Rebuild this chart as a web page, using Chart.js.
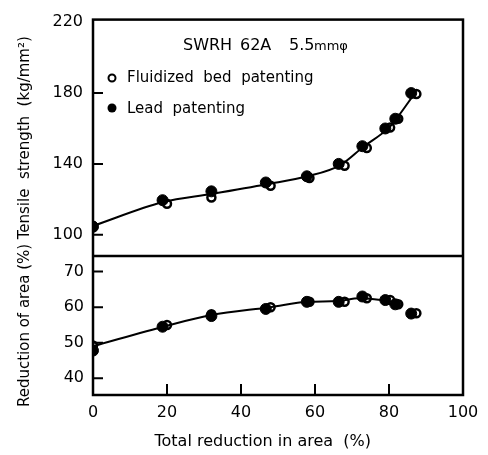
<!DOCTYPE html>
<html lang="en">
<head>
  <meta charset="UTF-8">
  <title>SWRH 62A patenting</title>
  <script src="https://cdn.jsdelivr.net/npm/chart.js"></script>
  <style>
    html, body { margin: 0; padding: 0; background: #fff; }
    .chart-box { width: 488px; height: 455px; }
  </style>
</head>
<body>
  <div class="chart-box"><canvas id="patentChart"></canvas></div>
  <script>
    // tick labels
    const xTicks = [0, 20, 40, 60, 80, 100];
    const tensileTicks = [100, 140, 180, 220];
    const areaTicks = [40, 50, 60, 70];

    // total reduction in area (%) for each drawing pass
    const fluidReduction = [0, 20, 32, 48, 58.5, 68, 74, 80.3, 82.5, 87.4];
    const leadReduction = [0, 18.8, 32, 46.7, 57.8, 66.4, 72.8, 79, 81.7, 86];

    // tensile strength (kg/mm2)
    const fluidTensile = [105, 117.5, 121, 127.7, 132, 139, 149, 160.5, 165.5, 179.5];
    const leadTensile = [104.5, 119.5, 124.5, 129.5, 133, 140, 150, 160, 165.5, 180];

    // reduction of area (%)
    const fluidArea = [49.2, 55, 58, 60, 61.5, 61.5, 62.5, 62, 60.8, 58.3];
    const leadArea = [47.8, 54.5, 57.5, 59.5, 61.5, 61.5, 63, 62, 60.8, 58.2];

    // hand-drawn trend curves
    const tensileCurveX = [0, 19, 32, 47, 58, 67, 73, 80, 82, 87];
    const tensileCurveY = [105, 118.5, 123, 128.5, 133, 139.5, 149.5, 160.5, 165.5, 180];
    const areaCurveX = [0, 20, 32, 48, 58, 66, 72, 78];
    const areaCurveY = [49, 54.8, 57.8, 60, 61.5, 61.7, 62.5, 62];

    const FONT = "'DejaVu Sans', sans-serif";
    const pts = (xs, ys) => xs.map((x, i) => ({ x: x, y: ys[i] }));

    // frame, panel divider, inward tick marks and in-plot legend
    const framePlugin = {
      id: 'frame',
      afterDraw(chart) {
        const ctx = chart.ctx;
        const a = chart.chartArea;
        const sx = chart.scales.x, sy = chart.scales.y, sy2 = chart.scales.y2;
        ctx.save();
        ctx.strokeStyle = '#000';
        ctx.lineWidth = 2.5;
        ctx.strokeRect(a.left, a.top, a.right - a.left, a.bottom - a.top);
        ctx.beginPath();
        ctx.moveTo(a.left, sy.bottom);
        ctx.lineTo(a.right, sy.bottom);
        ctx.stroke();

        ctx.lineWidth = 2;
        ctx.beginPath();
        tensileTicks.slice(0, 3).forEach(v => {
          const y = sy.getPixelForValue(v);
          ctx.moveTo(a.left, y); ctx.lineTo(a.left + 10, y);
        });
        areaTicks.forEach(v => {
          const y = sy2.getPixelForValue(v);
          ctx.moveTo(a.left, y); ctx.lineTo(a.left + 10, y);
        });
        xTicks.slice(1, 5).forEach(v => {
          const x = sx.getPixelForValue(v);
          ctx.moveTo(x, a.bottom); ctx.lineTo(x, a.bottom - 11);
        });
        ctx.stroke();

        // legend
        ctx.fillStyle = '#000';
        ctx.font = '16px ' + FONT;
        ctx.textBaseline = 'middle';
        ctx.textAlign = 'left';
        ctx.fillText('SWRH', 183, 46);
        ctx.fillText('62A', 240, 46);
        ctx.fillText('5.5', 289, 46);
        ctx.font = '13px ' + FONT;
        ctx.fillText('mm\u03c6', 314, 47);
        ctx.font = '15px ' + FONT;
        ctx.fillText('Fluidized  bed  patenting', 127, 78);
        ctx.fillText('Lead  patenting', 127, 109);
        ctx.lineWidth = 2;
        ctx.beginPath();
        ctx.arc(112, 78, 3.5, 0, Math.PI * 2);
        ctx.stroke();
        ctx.beginPath();
        ctx.arc(112, 108, 4.5, 0, Math.PI * 2);
        ctx.fill();
        ctx.restore();
      }
    };

    const axisTitle = (text) => ({
      display: true, text: text, color: '#000',
      font: { family: FONT, size: 15 }, padding: { top: 16, bottom: 4 }
    });

    new Chart(document.getElementById('patentChart'), {
      type: 'scatter',
      data: {
        datasets: [
          {
            label: 'tensile curve', data: pts(tensileCurveX, tensileCurveY), yAxisID: 'y',
            showLine: true, borderColor: '#000', borderWidth: 2, pointRadius: 0,
            cubicInterpolationMode: 'monotone'
          },
          {
            label: 'area curve', data: pts(areaCurveX, areaCurveY), yAxisID: 'y2',
            showLine: true, borderColor: '#000', borderWidth: 2, pointRadius: 0,
            cubicInterpolationMode: 'monotone'
          },
          {
            label: 'Lead patenting', data: pts(leadReduction, leadTensile), yAxisID: 'y',
            pointRadius: 5.5, backgroundColor: '#000', borderColor: '#000', borderWidth: 1
          },
          {
            label: 'Lead patenting', data: pts(leadReduction, leadArea), yAxisID: 'y2',
            pointRadius: 5.5, backgroundColor: '#000', borderColor: '#000', borderWidth: 1
          },
          {
            label: 'Fluidized bed patenting', data: pts(fluidReduction, fluidTensile), yAxisID: 'y',
            pointRadius: 4, backgroundColor: '#fff', borderColor: '#000', borderWidth: 2.5
          },
          {
            label: 'Fluidized bed patenting', data: pts(fluidReduction, fluidArea), yAxisID: 'y2',
            pointRadius: 4, backgroundColor: '#fff', borderColor: '#000', borderWidth: 2.5
          }
        ]
      },
      options: {
        responsive: true,
        maintainAspectRatio: false,
        animation: false,
        layout: { padding: { top: 15, right: 25, left: 0, bottom: 0 } },
        plugins: { legend: { display: false }, tooltip: { enabled: false } },
        scales: {
          x: {
            type: 'linear', min: 0, max: 100,
            afterBuildTicks: s => { s.ticks = xTicks.map(v => ({ value: v })); },
            afterFit: s => { s.height = 60; },
            grid: { display: false, drawTicks: false },
            border: { display: false },
            ticks: { color: '#000', font: { family: FONT, size: 16 }, padding: 8 },
            // trailing spaces nudge the centred title left, as in the original
            title: { display: true, text: 'Total reduction in area  (%)      ', color: '#000',
              font: { family: FONT, size: 16 }, padding: { top: 5 } }
          },
          // lower panel first: stacked scales fill from the bottom up
          y2: {
            type: 'linear', position: 'left', stack: 'panels', stackWeight: 1,
            min: 35.3, max: 74.4,
            afterBuildTicks: s => { s.ticks = areaTicks.map(v => ({ value: v })); },
            afterFit: s => { s.width = 93; },
            grid: { display: false, drawTicks: false },
            border: { display: false },
            ticks: { color: '#000', font: { family: FONT, size: 16 }, padding: 9 },
            title: axisTitle('Reduction of area (%)')
          },
          y: {
            type: 'linear', position: 'left', stack: 'panels', stackWeight: 1.7,
            min: 88, max: 221.5,
            afterBuildTicks: s => { s.ticks = tensileTicks.map(v => ({ value: v })); },
            afterFit: s => { s.width = 93; },
            grid: { display: false, drawTicks: false },
            border: { display: false },
            ticks: { color: '#000', font: { family: FONT, size: 16 }, padding: 10 },
            title: axisTitle('Tensile  strength  (kg/mm\u00b2)')
          }
        }
      },
      plugins: [framePlugin]
    });
  </script>
</body>
</html>
